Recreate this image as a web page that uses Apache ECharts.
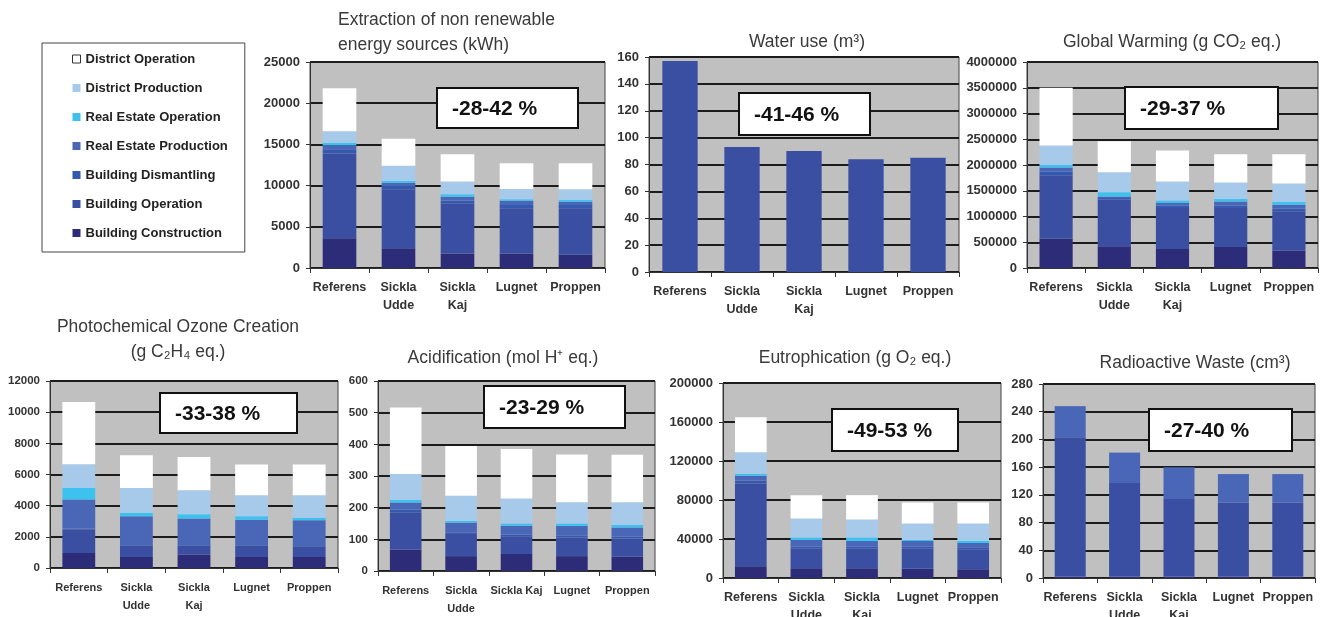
<!DOCTYPE html>
<html>
<head>
<meta charset="utf-8">
<title>Environmental impact per district</title>
<script src="https://cdn.jsdelivr.net/npm/echarts@6/dist/echarts.min.js"></script>
<style>
  html, body { margin: 0; padding: 0; background: #fff; }
  #main { width: 1320px; height: 617px; }
</style>
</head>
<body>
<div id="main"></div>
<script>
// Categories (districts).
const categories = ['Referens', 'Sickla Udde', 'Sickla Kaj', 'Lugnet', 'Proppen'];

// Stack order, bottom to top.
const seriesNames = [
  'Building Construction',
  'Building Operation',
  'Building Dismantling',
  'Real Estate Production',
  'Real Estate Operation',
  'District Production',
  'District Operation'
];
const seriesColors = ['#2d2c78', '#3a4fa1', '#3559ae', '#4a66b6', '#3dc2ef', '#a8caea', '#ffffff'];

// Extraction of non renewable energy sources (kWh), one row per series.
const energy = [
  [3600, 2400, 1750, 1750, 1600],
  [10300, 7150, 6050, 5500, 5650],
  [500, 400, 400, 400, 400],
  [500, 400, 450, 500, 400],
  [300, 200, 300, 200, 200],
  [1400, 1850, 1550, 1250, 1300],
  [5200, 3300, 3300, 3100, 3150]
];

// Water use (m3), single bar per district.
const water = [157, 93, 90, 84, 85];

// Global Warming (g CO2 eq.).
const warming = [
  [570000, 420000, 370000, 410000, 340000],
  [1230000, 910000, 795000, 755000, 760000],
  [70000, 30000, 45000, 50000, 50000],
  [80000, 30000, 50000, 75000, 80000],
  [50000, 80000, 50000, 50000, 50000],
  [380000, 390000, 370000, 320000, 360000],
  [1120000, 600000, 600000, 550000, 570000]
];

// Photochemical Ozone Creation (g C2H4 eq.).
const ozone = [
  [960, 710, 860, 710, 710],
  [1500, 700, 550, 700, 650],
  [70, 50, 50, 50, 50],
  [1860, 1860, 1710, 1640, 1650],
  [750, 230, 280, 220, 170],
  [1520, 1590, 1540, 1350, 1440],
  [4000, 2100, 2140, 1970, 1970]
];

// Acidification (mol H+ eq.).
const acid = [
  [68, 47, 54, 47, 45],
  [116, 70, 56, 59, 58],
  [10, 5, 5, 5, 5],
  [22, 31, 28, 31, 29],
  [8, 5, 7, 8, 8],
  [82, 80, 79, 67, 72],
  [210, 157, 156, 151, 150]
];

// Eutrophication (g O2 eq.).
const eutro = [
  [12000, 10000, 10000, 9600, 9000],
  [85000, 20000, 20000, 20400, 20500],
  [3000, 2000, 2000, 2000, 2000],
  [5000, 7000, 6000, 6000, 4500],
  [2000, 2500, 3500, 1000, 2000],
  [22000, 19500, 18500, 17000, 18000],
  [36000, 24000, 25000, 21500, 21500]
];

// Radioactive Waste (cm3).
const radioConstruction = [2, 2, 2, 2, 2];
const radioOperation = [201, 135, 112, 107, 107];
const radioRealEstate = [45, 44, 46, 41, 41];

// Reduction labels shown in the boxes.
const reductions = ['-28-42 %', '-41-46 %', '-29-37 %', '-33-38 %', '-23-29 %', '-49-53 %', '-27-40 %'];

const FONT = '"Liberation Sans", Arial, sans-serif';

// Panel layout (pixels) and which rows go where.
const panels = [
  { grid: [310, 62, 295, 206], max: 25000, interval: 5000, rows: energy,
    box: [437, 88, 141, 40] },
  { grid: [649, 57, 310, 215], max: 160, interval: 20,
    rows: [null, water, null, null, null, null, null], box: [739, 93, 131, 42] },
  { grid: [1027, 62, 291, 206], max: 4000000, interval: 500000, rows: warming,
    box: [1125, 87, 153, 42] },
  { grid: [50, 381, 288, 187], max: 12000, interval: 2000, rows: ozone,
    box: [160, 393, 137, 40], small: true },
  { grid: [378, 381, 277, 190], max: 600, interval: 100, rows: acid,
    box: [484, 386, 141, 42], oneLineKaj: true, small: true },
  { grid: [723, 383, 278, 195], max: 200000, interval: 40000, rows: eutro,
    box: [832, 409, 126, 42] },
  { grid: [1043, 384, 272, 194], max: 280, interval: 40,
    rows: [radioConstruction, radioOperation, null, radioRealEstate, null, null, null],
    box: [1149, 409, 143, 42] }
];

const titles = [
  { text: 'Extraction of non renewable\nenergy sources (kWh)', x: 338, y: 8, align: 'left' },
  { text: 'Water use (m³)', x: 807, y: 42 },
  { text: 'Global Warming (g CO₂ eq.)', x: 1172, y: 42 },
  { text: 'Photochemical Ozone Creation\n(g C₂H₄ eq.)', x: 178, y: 340 },
  { text: 'Acidification (mol H⁺ eq.)', x: 503, y: 358 },
  { text: 'Eutrophication (g O₂ eq.)', x: 855, y: 358 },
  { text: 'Radioactive Waste (cm³)', x: 1195, y: 363 }
];

const grids = [];
const xAxes = [];
const yAxes = [];
const series = [];
const graphics = [];

panels.forEach(function (p, idx) {
  grids.push({
    left: p.grid[0], top: p.grid[1], width: p.grid[2], height: p.grid[3],
    containLabel: false,
    outerBoundsMode: 'none',
    show: true, backgroundColor: '#c0c0c0', borderColor: '#444', borderWidth: 1
  });

  xAxes.push({
    type: 'category',
    gridIndex: idx,
    data: categories,
    axisLine: { lineStyle: { color: '#333', width: 1 } },
    axisTick: { show: true, length: 5, lineStyle: { color: '#333' } },
    axisLabel: {
      interval: 0,
      margin: 11,
      fontSize: p.small ? 11 : 12.5,
      fontWeight: 'bold',
      color: '#333',
      lineHeight: 18,
      fontFamily: FONT,
      formatter: function (v) {
        if (p.oneLineKaj && v === 'Sickla Kaj') {
          return v;
        }
        return v.replace(' ', '\n');
      }
    }
  });

  yAxes.push({
    type: 'value',
    gridIndex: idx,
    min: 0,
    max: p.max,
    interval: p.interval,
    axisLine: { show: true, lineStyle: { color: '#333' } },
    axisTick: { show: true, length: 4, lineStyle: { color: '#333' } },
    axisLabel: {
      margin: 10,
      fontSize: p.small ? 11.5 : 13,
      fontWeight: 'bold',
      color: '#333',
      fontFamily: FONT,
      formatter: function (v) { return String(v); }
    },
    splitLine: { lineStyle: { color: '#1c1c1c', width: 2 } }
  });

  p.rows.forEach(function (row, i) {
    if (!row) {
      return;
    }
    series.push({
      name: seriesNames[i],
      type: 'bar',
      stack: 'panel' + idx,
      xAxisIndex: idx,
      yAxisIndex: idx,
      barWidth: '57%',
      data: row,
      itemStyle: { color: seriesColors[i] },
      emphasis: { disabled: true },
      animation: false
    });
  });

  // Reduction box, drawn above the grid lines.
  const b = p.box;
  graphics.push({
    type: 'group',
    x: b[0],
    y: b[1],
    z: 100,
    children: [
      {
        type: 'rect',
        z: 100,
        shape: { x: 0, y: 0, width: b[2], height: b[3] },
        style: { fill: '#fff', stroke: '#111', lineWidth: 2 }
      },
      {
        type: 'text',
        z: 101,
        style: {
          text: reductions[idx],
          x: 15,
          y: b[3] / 2 + 1,
          font: 'bold 21px ' + FONT,
          fill: '#111',
          align: 'left',
          textAlign: 'left',
          verticalAlign: 'middle',
          textVerticalAlign: 'middle'
        }
      }
    ]
  });
});

titles.forEach(function (t) {
  const align = t.align || 'center';
  graphics.push({
    type: 'text',
    x: t.x,
    y: t.y,
    z: 100,
    style: {
      text: t.text,
      font: '17.5px ' + FONT,
      lineHeight: 25,
      fill: '#3a3a3a',
      align: align,
      textAlign: align,
      verticalAlign: t.align ? 'top' : 'middle',
      textVerticalAlign: t.align ? 'top' : 'middle'
    }
  });
});

const legendData = seriesNames.slice().reverse().map(function (name) {
  if (name === 'District Operation') {
    return { name: name, itemStyle: { borderColor: '#333', borderWidth: 1 } };
  }
  return { name: name };
});

const chart = echarts.init(document.getElementById('main'), null, { renderer: 'canvas' });

chart.setOption({
  backgroundColor: '#fff',
  animation: false,
  textStyle: { fontFamily: FONT },
  legend: {
    orient: 'vertical',
    left: 42,
    top: 43,
    data: legendData,
    icon: 'rect',
    itemWidth: 8,
    itemHeight: 8,
    itemGap: 15,
    padding: [9, 17, 12, 30],
    borderColor: '#444',
    borderWidth: 1,
    selectedMode: false,
    textStyle: { fontSize: 13, fontWeight: 'bold', color: '#222', lineHeight: 14, fontFamily: FONT }
  },
  grid: grids,
  xAxis: xAxes,
  yAxis: yAxes,
  series: series,
  graphic: graphics
});
</script>
</body>
</html>
